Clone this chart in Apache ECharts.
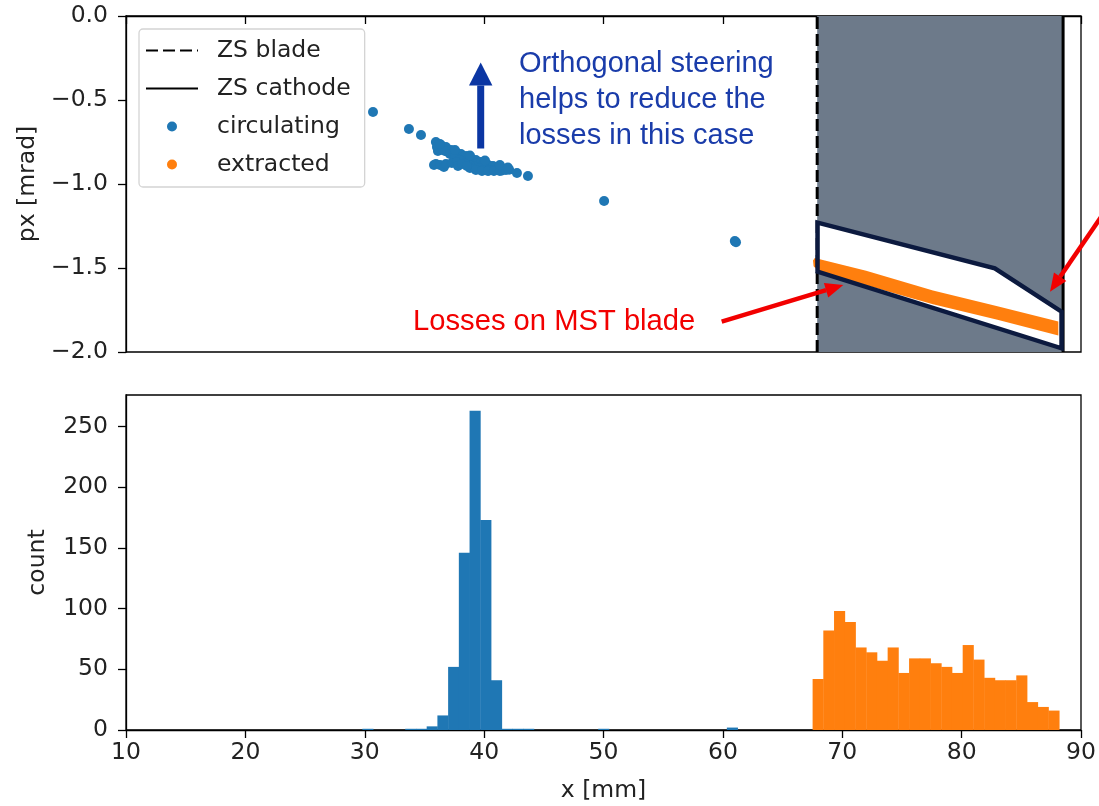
<!DOCTYPE html>
<html>
<head>
<meta charset="utf-8">
<script src="https://cdn.jsdelivr.net/npm/echarts@6/dist/echarts.min.js"></script>
<style>
  html, body { margin: 0; padding: 0; background: #fff; }
  #chart { width: 1099px; height: 806px; }
</style>
</head>
<body>
<div id="chart"></div>
<script>
// ---- data ----
// septum positions [mm]
const zsBlade = 67.9;
const zsCathode = 88.5;

// circulating particles: [x (mm), px (mrad)]
const circulating = [
  [30.69, -0.571], [33.70, -0.673], [34.71, -0.708],
  [35.96, -0.750], [36.05, -0.780], [36.13, -0.804], [36.38, -0.768], [36.55, -0.798],
  [36.80, -0.780], [36.97, -0.810], [37.22, -0.798], [37.39, -0.821], [37.64, -0.810],
  [37.81, -0.833], [38.06, -0.821], [38.22, -0.845], [38.48, -0.833], [38.64, -0.857],
  [38.89, -0.845], [39.06, -0.869], [39.31, -0.857], [39.48, -0.875], [39.73, -0.869],
  [39.98, -0.887], [40.23, -0.881], [40.49, -0.893], [40.74, -0.893], [40.99, -0.899],
  [41.24, -0.905], [41.49, -0.905], [41.74, -0.911], [39.15, -0.893], [39.65, -0.905],
  [40.15, -0.911], [40.65, -0.917], [41.16, -0.917], [38.81, -0.887], [38.31, -0.875],
  [39.90, -0.917], [40.40, -0.920], [41.50, -0.920], [42.10, -0.915],
  [36.72, -0.804], [37.14, -0.821], [37.55, -0.839], [37.97, -0.857], [38.39, -0.875],
  [38.81, -0.905], [39.31, -0.917], [39.82, -0.923], [40.32, -0.923], [40.82, -0.923],
  [41.32, -0.923], [41.83, -0.917], [36.30, -0.762], [37.55, -0.798], [38.81, -0.830],
  [40.07, -0.860], [41.32, -0.887], [41.99, -0.902],
  [35.80, -0.887], [35.96, -0.881], [36.30, -0.887], [36.63, -0.899], [36.80, -0.881],
  [37.30, -0.875], [37.72, -0.869], [37.81, -0.893], [38.14, -0.881], [38.56, -0.893],
  [42.75, -0.935], [43.67, -0.952], [50.05, -1.101], [61.00, -1.340], [61.10, -1.347]
];

// extracted beam band outline: upper and lower edge [x, px]
const extractedUpper = [[67.55, -1.455], [67.7, -1.44], [72.0, -1.517], [77.6, -1.634], [83.0, -1.728], [88.1, -1.818]];
const extractedLower = [[88.1, -1.902], [83.0, -1.808], [77.6, -1.716], [72.0, -1.602], [68.1, -1.525], [67.6, -1.49]];

// loss region outline on the MST blade side [x, px]
const lossZone = [[67.93, -1.230], [82.78, -1.502], [88.37, -1.760], [88.37, -1.978], [67.93, -1.522]];

// histogram binning [mm]
const binStart = 29.8;
const binWidth = 0.898;
// counts per bin, circulating starts at bin 0
const circulatingCounts = [1, 0, 0, 0, 1, 1, 3, 12, 52, 146, 263, 173, 41, 1, 1, 1,
  0, 0, 0, 0, 0, 0, 1, 0, 0, 0, 0, 0, 0, 0, 0, 0, 0, 0, 2];
// extracted starts at bin 42
const extractedFirstBin = 42;
const extractedCounts = [42, 82, 98, 89, 68, 64, 57, 68, 47, 59, 59, 55, 52, 47,
  70, 58, 43, 41, 41, 45, 23, 19, 16];

// axis ticks
const xTicks = [10, 20, 30, 40, 50, 60, 70, 80, 90];
const pxTicks = [-2.0, -1.5, -1.0, -0.5, 0.0];
const countTicks = [0, 50, 100, 150, 200, 250];

// ---- helpers ----
const BLUE = '#1f77b4';
const ORANGE = '#ff7f0e';
const FONT = 'DejaVu Sans';
const TXT = '#222';

function histData(counts, first) {
  return counts.map((c, i) => {
    const l = binStart + (first + i) * binWidth;
    return [l, l + binWidth, c];
  }).filter(d => d[2] > 0);
}

function histRender(color) {
  return function (params, api) {
    const p0 = api.coord([api.value(0), 0]);
    const p1 = api.coord([api.value(1), api.value(2)]);
    return {
      type: 'rect',
      shape: { x: p0[0], y: p1[1], width: p1[0] - p0[0] + 0.4, height: p0[1] - p1[1] },
      style: { fill: color }
    };
  };
}

function polyRender(points, style) {
  return function (params, api) {
    return {
      type: 'polygon',
      shape: { points: points.map(p => api.coord(p)) },
      style: style
    };
  };
}

const minusFmt = v => (v < 0 ? '\u2212' : '') + Math.abs(v).toFixed(1);

const axisLineStyle = { color: '#000', width: 1.3 };
const tickStyle = { show: true, inside: false, length: 8, lineStyle: { color: '#000', width: 1.3 } };
const labelStyle = { color: TXT, fontSize: 23.5, fontFamily: FONT };

const chart = echarts.init(document.getElementById('chart'), null, { renderer: 'canvas' });

// arrow helper for annotations: shaft + head
function arrow(x0, y0, x1, y1, color, w, headLen, headHalf) {
  const dx = x1 - x0, dy = y1 - y0;
  const L = Math.hypot(dx, dy);
  const ux = dx / L, uy = dy / L;
  const bx = x1 - ux * headLen, by = y1 - uy * headLen;
  const nx = -uy, ny = ux;
  return [
    { type: 'line', z: 50, shape: { x1: x0, y1: y0, x2: bx, y2: by }, style: { stroke: color, lineWidth: w } },
    { type: 'polygon', z: 50, shape: { points: [[x1, y1], [bx + nx * headHalf, by + ny * headHalf], [bx - nx * headHalf, by - ny * headHalf]] }, style: { fill: color } }
  ];
}

const option = {
  animation: false,
  backgroundColor: '#fff',
  grid: [
    { left: 126, top: 16, width: 955, height: 336, show: true, borderColor: '#000', borderWidth: 1.3 },
    { left: 126, top: 395, width: 955, height: 335, show: true, borderColor: '#000', borderWidth: 1.3 }
  ],
  xAxis: [
    {
      gridIndex: 0, type: 'value', min: 10, max: 90, interval: 10,
      axisLine: { lineStyle: axisLineStyle }, axisTick: tickStyle,
      axisLabel: { show: false }, splitLine: { show: false }
    },
    {
      gridIndex: 1, type: 'value', min: 10, max: 90, interval: 10,
      axisLine: { lineStyle: axisLineStyle }, axisTick: tickStyle,
      axisLabel: Object.assign({ margin: 11 }, labelStyle),
      splitLine: { show: false },
      name: 'x [mm]', nameLocation: 'middle', nameGap: 49,
      nameTextStyle: { color: TXT, fontSize: 23.5, fontFamily: FONT }
    }
  ],
  yAxis: [
    {
      gridIndex: 0, type: 'value', min: -2, max: 0, interval: 0.5,
      axisLine: { lineStyle: axisLineStyle },
      axisTick: Object.assign({ customValues: pxTicks }, tickStyle),
      axisLabel: Object.assign({ margin: 18, formatter: minusFmt, customValues: pxTicks }, labelStyle),
      splitLine: { show: false },
      name: 'px [mrad]', nameLocation: 'middle', nameGap: 84, nameRotate: 90,
      nameTextStyle: { color: TXT, fontSize: 23.5, fontFamily: FONT }
    },
    {
      gridIndex: 1, type: 'value', min: 0, max: 276, interval: 50,
      axisLine: { lineStyle: axisLineStyle },
      axisTick: Object.assign({ customValues: countTicks }, tickStyle),
      axisLabel: Object.assign({ margin: 18, customValues: countTicks }, labelStyle),
      splitLine: { show: false },
      name: 'count', nameLocation: 'middle', nameGap: 76, nameRotate: 90,
      nameTextStyle: { color: TXT, fontSize: 23.5, fontFamily: FONT }
    }
  ],
  legend: {
    left: 139, top: 29, orient: 'vertical',
    padding: [8, 14, 9, 6],
    itemWidth: 52, itemHeight: 10, itemGap: 11,
    backgroundColor: 'rgba(255,255,255,0.85)',
    borderColor: '#d4d4d4', borderWidth: 1.3, borderRadius: 4,
    textStyle: { color: TXT, fontSize: 23.5, fontFamily: FONT, lineHeight: 27, padding: [0, 0, 0, 14] },
    data: [
      { name: 'ZS blade', itemStyle: { opacity: 0 } },
      { name: 'ZS cathode', itemStyle: { opacity: 0 } },
      { name: 'circulating', icon: 'circle' },
      { name: 'extracted', icon: 'circle' }
    ]
  },
  series: [
    {
      name: 'ZS blade', type: 'line', xAxisIndex: 0, yAxisIndex: 0, z: 6,
      symbol: 'none', silent: true,
      data: [[zsBlade, -2], [zsBlade, 0]],
      lineStyle: { color: '#000', width: 3, type: [12, 5] },
      itemStyle: { color: '#000' },
      markArea: {
        silent: true, z: 1,
        itemStyle: { color: '#6d7a8a' },
        data: [[{ coord: [zsBlade, -2] }, { coord: [zsCathode, 0] }]]
      }
    },
    {
      name: 'ZS cathode', type: 'line', xAxisIndex: 0, yAxisIndex: 0, z: 6,
      symbol: 'none', silent: true,
      data: [[zsCathode, -2], [zsCathode, 0]],
      lineStyle: { color: '#000', width: 3 },
      itemStyle: { color: '#000' }
    },
    {
      name: 'circulating', type: 'scatter', xAxisIndex: 0, yAxisIndex: 0, z: 5,
      symbolSize: 10, data: circulating,
      itemStyle: { color: BLUE, opacity: 1 }
    },
    {
      name: 'lossZoneFill', type: 'custom', xAxisIndex: 0, yAxisIndex: 0, z: 3,
      silent: true, data: [[zsBlade, -1.5]],
      renderItem: polyRender(lossZone, { fill: '#fff' })
    },
    {
      name: 'extracted', type: 'custom', xAxisIndex: 0, yAxisIndex: 0, z: 4,
      silent: true, data: [[zsBlade, -1.5]],
      itemStyle: { color: ORANGE },
      renderItem: polyRender(extractedUpper.concat(extractedLower), { fill: ORANGE })
    },
    {
      name: 'lossZoneEdge', type: 'custom', xAxisIndex: 0, yAxisIndex: 0, z: 7,
      silent: true, data: [[zsBlade, -1.5]],
      renderItem: polyRender(lossZone, { fill: 'none', stroke: '#0c1a3f', lineWidth: 4.5, lineJoin: 'miter' })
    },
    {
      name: 'circulating hist', type: 'custom', xAxisIndex: 1, yAxisIndex: 1,
      silent: true, data: histData(circulatingCounts, 0),
      encode: { x: [0, 1], y: 2 },
      renderItem: histRender(BLUE)
    },
    {
      name: 'extracted hist', type: 'custom', xAxisIndex: 1, yAxisIndex: 1,
      silent: true, data: histData(extractedCounts, extractedFirstBin),
      encode: { x: [0, 1], y: 2 },
      renderItem: histRender(ORANGE)
    }
  ],
  graphic: [
    {
      type: 'text', z: 50, left: 519, top: 46,
      style: {
        text: 'Orthogonal steering\nhelps to reduce the\nlosses in this case',
        font: '29px "Liberation Sans", Arial, sans-serif',
        fill: '#1a3caa', lineHeight: 36
      }
    },
    {
      type: 'text', z: 50, left: 413, top: 307,
      style: {
        text: 'Losses on MST blade',
        font: '29.2px "Liberation Sans", Arial, sans-serif',
        fill: '#f20000'
      }
    },
    ...arrow(480.7, 148.5, 480.7, 62.5, '#0b36a3', 7, 23, 11.7),
    ...arrow(721.7, 321.7, 843.3, 285, '#f20000', 4.5, 18, 7.5),
    ...arrow(1112, 201, 1050, 291.7, '#f20000', 4.5, 18, 7.5)
  ]
};

chart.setOption(option);
</script>
</body>
</html>
